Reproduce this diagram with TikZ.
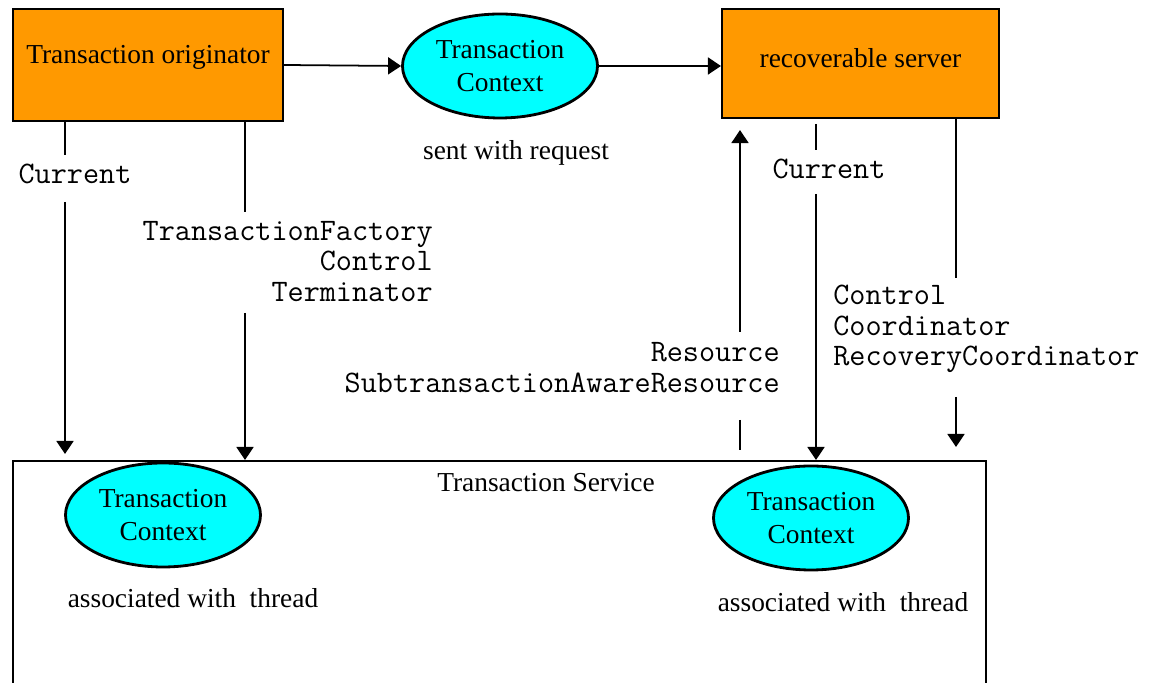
\documentclass[tikz,border=0pt]{standalone}
\usepackage{fontspec}
\setmainfont{Liberation Serif}
\usepackage{tikz}
\usetikzlibrary{positioning}
\usetikzlibrary{arrows.meta,shapes.geometric}

\definecolor{boxorange}{RGB}{255,153,0}
\definecolor{ctxcyan}{RGB}{0,255,255}

\tikzset{
	objbox/.style = {draw, line width=1.2pt, fill=boxorange},
	ctx/.style = {ellipse, draw, line width=1.6pt, fill=ctxcyan, minimum width=3.9cm, minimum height=2.08cm, inner sep=0pt, align=center},
	iface/.style = {font=\ttfamily\fontsize{17.8pt}{17.4pt}\selectfont, inner sep=0pt},
	conn/.style = {line width=1pt},
	flow/.style = {line width=1pt, -{Triangle[length=0.26cm, width=0.34cm]}},
}

\begin{document}
\begin{tikzpicture}[font=\fontsize{15.6pt}{18.8pt}\selectfont]

	\useasboundingbox (0,0) rectangle (23.26cm,13.66cm);

	%Objects
	\node[objbox, minimum width=5.4cm, minimum height=2.24cm, text depth=0.44cm] (Orig) at (2.96cm,12.36cm) {Transaction originator};
	
	\node[ctx] (CtxTop) at (10.00cm,12.34cm) {Transaction\\Context};
	
	\node[objbox, minimum width=5.54cm, minimum height=2.18cm, text depth=0.2cm] (Server) at (17.21cm,12.39cm) {recoverable server};
	
	\node (Sent) at (10.32cm,10.60cm) {sent with request};

	%Service
	\node[draw, conn, minimum width=19.46cm, minimum height=5.2cm, anchor=north west] (Service) at (0.24cm,4.46cm) {};
	\node (SvcTxt) at (10.92cm,4.00cm) {Transaction Service};
	
	\node[ctx] (CtxL) at (3.26cm,3.36cm) {Transaction\\Context};
	\node[ctx] (CtxR) at (16.22cm,3.30cm) {Transaction\\Context};
	
	\node (AssocL) at (3.86cm,1.70cm) {associated with~ thread};
	\node (AssocR) at (16.86cm,1.62cm) {associated with~ thread};

	%Interfaces
	\node[iface] (CurL) at (1.50cm,10.18cm) {Current};
	\node[iface, align=right, anchor=east] (OrigIf) at (8.66cm,8.43cm) {TransactionFactory\\Control\\Terminator};
	\node[iface, align=right, anchor=east] (ResIf) at (15.60cm,6.31cm) {Resource\\SubtransactionAwareResource};
	\node[iface] (CurR) at (16.58cm,10.28cm) {Current};
	\node[iface, align=left, anchor=west] (SrvIf) at (16.66cm,7.08cm) {Control\\Coordinator\\RecoveryCoordinator};

	%Line breaks round the labels
	\coordinate (A1) at (1.30cm,10.56cm);
	\coordinate (A2) at (1.30cm,9.62cm);
	\coordinate (B1) at (4.90cm,9.42cm);
	\coordinate (B2) at (4.90cm,7.40cm);
	\coordinate (C1) at (14.80cm,7.02cm);
	\coordinate (C2) at (14.80cm,5.26cm);
	\coordinate (C3) at (14.80cm,4.66cm);
	\coordinate (D0) at (16.32cm,11.18cm);
	\coordinate (D1) at (16.32cm,10.66cm);
	\coordinate (D2) at (16.32cm,9.78cm);
	\coordinate (E1) at (19.12cm,8.10cm);
	\coordinate (E2) at (19.12cm,5.72cm);
	\coordinate (E3) at (19.12cm,4.72cm);

	%Connectors
	\draw[flow] (Orig.east) -- (CtxTop.west);
	\draw[flow] (CtxTop.east) -- (CtxTop.east -| Server.west);

	\draw[conn] (Orig.south -| A1) -- (A1);
	\draw[flow, shorten >=0.12cm] (A2) -- (A2 |- Service.north);
	\draw[conn] (Orig.south -| B1) -- (B1);
	\draw[flow] (B2) -- (B2 |- Service.north);

	\draw[flow, shorten >=0.22cm] (C1) -- (C1 |- Server.south);
	\draw[conn] (C2) -- (C3);
	\draw[conn] (D0) -- (D1);
	\draw[flow] (D2) -- (D2 |- Service.north);
	\draw[conn] (Server.south -| E1) -- (E1);
	\draw[flow] (E2) -- (E3);

\end{tikzpicture}
\end{document}
